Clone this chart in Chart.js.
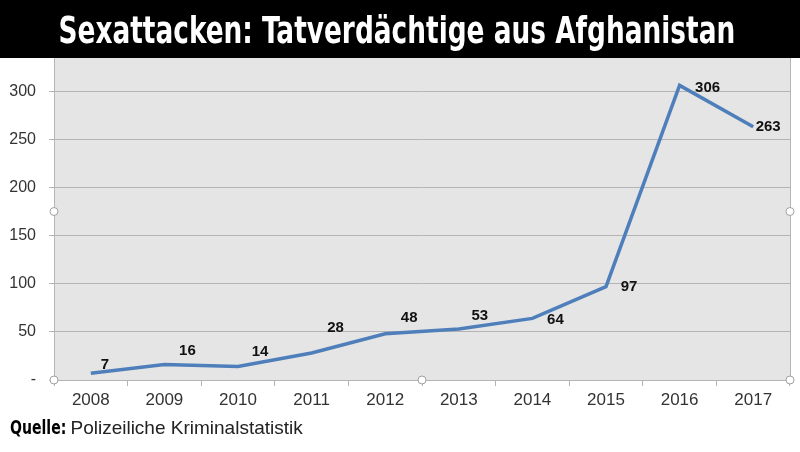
<!DOCTYPE html>
<html>
<head>
<meta charset="utf-8">
<script src="https://cdn.jsdelivr.net/npm/chart.js@4"></script>
<style>
  body { margin: 0; background: #fff; }
  #wrap { position: relative; width: 800px; height: 452px; overflow: hidden; }
  #header {
    position: absolute; left: 0; top: 0; width: 800px; height: 58px;
    background: #000; z-index: 2;
  }
  #title {
    position: absolute; left: 397px; top: 0; color: #fff; white-space: nowrap;
    font-family: 'DejaVu Sans Condensed', 'Liberation Sans Narrow', sans-serif;
    font-weight: bold; font-size: 38px; line-height: 60px;
    transform-origin: 0 50%;
  }
  #source {
    position: absolute; left: 10px; top: 416px; z-index: 2; white-space: nowrap;
    font-family: 'Liberation Sans', Arial, sans-serif; font-size: 19px; color: #222;
  }
  #quelle {
    display: inline-block;
    font-family: 'DejaVu Sans Condensed', 'Liberation Sans Narrow', sans-serif;
    font-weight: bold; font-size: 19px; color: #000;
    transform-origin: 0 50%;
  }
  canvas { position: absolute; left: 0; top: 0; }
</style>
</head>
<body>
<div id="wrap">
  <div id="header"><span id="title">Sexattacken: Tatverdächtige aus Afghanistan</span></div>
  <canvas id="myChart" width="800" height="452"></canvas>
  <div id="source"><span id="quelle">Quelle:</span><span id="srcText">Polizeiliche Kriminalstatistik</span></div>
</div>
<script>
const years = ['2008', '2009', '2010', '2011', '2012', '2013', '2014', '2015', '2016', '2017']
const suspects = [7, 16, 14, 28, 48, 53, 64, 97, 306, 263]
const yTicks = [0, 50, 100, 150, 200, 250, 300]

// squeeze the headline and the source label into the widths of the original
const title = document.getElementById('title')
const tw = title.offsetWidth
title.style.transform = 'translateX(' + (-677 / 2) + 'px) scaleX(' + (677 / tw) + ')'
const quelle = document.getElementById('quelle')
const qw = quelle.offsetWidth
quelle.style.transform = 'scaleX(' + (56 / qw) + ')'
quelle.style.marginRight = (60 - qw) + 'px'

const plotFrame = {
  id: 'plotFrame',
  beforeDraw(chart) {
    const { ctx, chartArea: a } = chart
    ctx.save()
    ctx.fillStyle = '#e5e5e5'
    ctx.fillRect(a.left, a.top, a.right - a.left, a.bottom - a.top)
    ctx.strokeStyle = '#b4b4b4'
    ctx.lineWidth = 1
    ctx.beginPath()
    ctx.moveTo(a.right + 0.5, a.top)
    ctx.lineTo(a.right + 0.5, a.bottom)
    ctx.stroke()
    ctx.restore()
  },
  afterDraw(chart) {
    // selection handles of the original screenshot
    const { ctx, chartArea: a } = chart
    const midY = (a.top + a.bottom) / 2
    const midX = (a.left + a.right) / 2
    const spots = [[a.left, midY], [a.right, midY], [a.left, a.bottom], [midX, a.bottom], [a.right, a.bottom]]
    ctx.save()
    ctx.fillStyle = '#fff'
    ctx.strokeStyle = '#a0a0a0'
    ctx.lineWidth = 1
    spots.forEach(([x, y]) => {
      ctx.beginPath()
      ctx.arc(x, y, 4, 0, Math.PI * 2)
      ctx.fill()
      ctx.stroke()
    })
    ctx.restore()
  }
}

const valueLabels = {
  id: 'valueLabels',
  afterDatasetsDraw(chart, args, opts) {
    const { ctx } = chart
    const meta = chart.getDatasetMeta(0)
    ctx.save()
    ctx.font = 'bold 15px "Liberation Sans", Arial, sans-serif'
    ctx.fillStyle = '#111'
    ctx.textAlign = 'center'
    ctx.textBaseline = 'middle'
    meta.data.forEach((pt, i) => {
      const [dx, dy] = opts.shift[i]
      ctx.fillText(suspects[i], pt.x + dx, pt.y + dy)
    })
    ctx.restore()
  }
}

new Chart(document.getElementById('myChart').getContext('2d'), {
  type: 'line',
  data: {
    labels: years,
    datasets: [{
      label: 'Tatverdächtige',
      data: suspects,
      borderColor: '#4f7fbb',
      borderWidth: 3.5,
      pointRadius: 0,
      tension: 0
    }]
  },
  options: {
    responsive: false,
    animation: false,
    layout: { padding: { top: 43, right: 10, left: 0, bottom: 0 } },
    plugins: {
      legend: { display: false },
      tooltip: { enabled: false },
      valueLabels: {
        shift: [[14, -8], [23, -14], [22, -15], [24, -25], [24, -16], [21, -13], [23, 1], [23, 0], [28, 2], [15, 0]]
      }
    },
    scales: {
      x: {
        type: 'category',
        offset: true,
        afterFit: s => { s.height = 72 },
        grid: { drawOnChartArea: false, offset: true, tickLength: 6, color: '#b4b4b4' },
        border: { color: '#b4b4b4' },
        ticks: {
          color: '#333',
          padding: 4,
          font: { family: "'Liberation Sans', Arial, sans-serif", size: 17 }
        }
      },
      y: {
        min: 0,
        max: 350,
        afterFit: s => { s.width = 54 },
        afterBuildTicks: s => { s.ticks = yTicks.map(v => ({ value: v })) },
        grid: { color: '#b4b4b4', tickLength: 5 },
        border: { color: '#b4b4b4' },
        ticks: {
          color: '#333',
          padding: 13,
          font: { family: "'Liberation Sans', Arial, sans-serif", size: 16 },
          callback: v => v === 0 ? '-' : v
        }
      }
    }
  },
  plugins: [plotFrame, valueLabels]
})
</script>
</body>
</html>
